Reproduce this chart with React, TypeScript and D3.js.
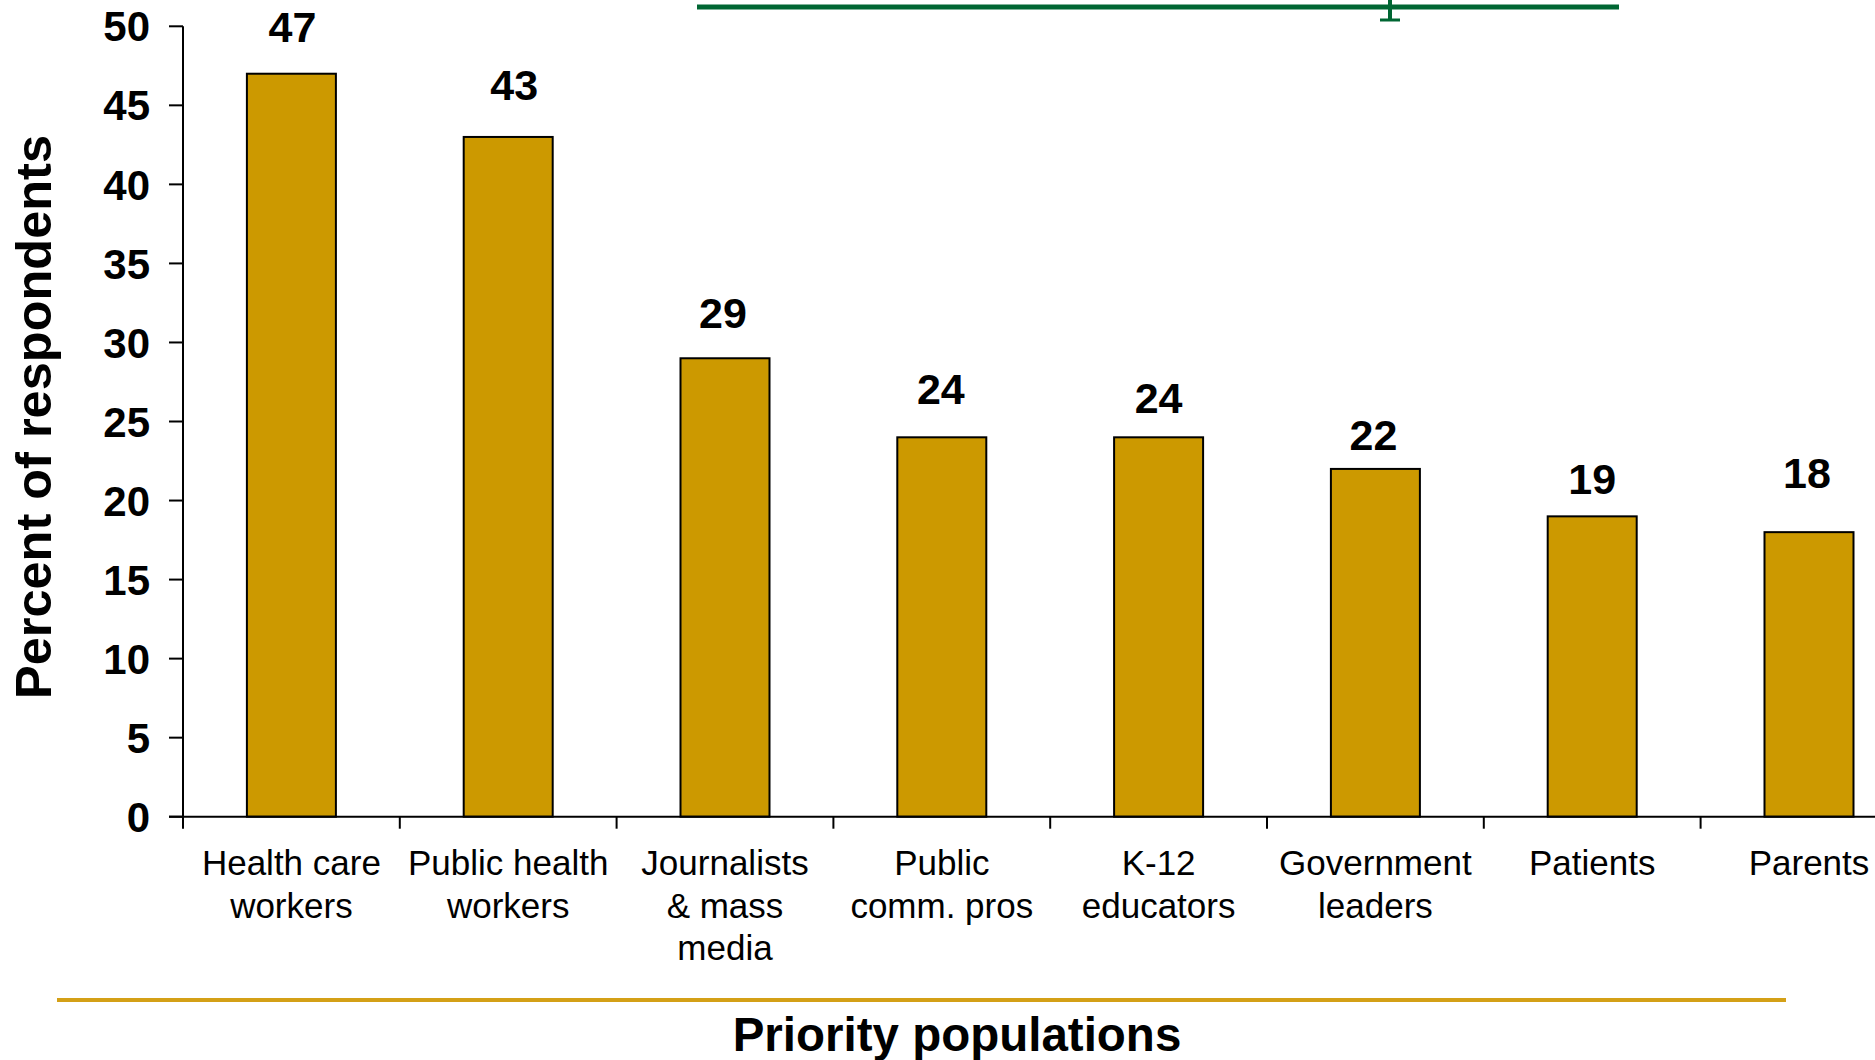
import React from "react";
import * as d3 from "d3";

const categories: string[][] = [
  ["Health care", "workers"],
  ["Public health", "workers"],
  ["Journalists", "& mass", "media"],
  ["Public", "comm. pros"],
  ["K-12", "educators"],
  ["Government", "leaders"],
  ["Patients"],
  ["Parents"],
];
const values: number[] = [47, 43, 29, 24, 24, 22, 19, 18];
// value-label anchor heights (in data units), as placed in the original slide
const labelAnchors: number[] = [50.0, 46.3, 31.9, 27.1, 26.5, 24.2, 21.4, 21.8];
const yTicks: number[] = [0, 5, 10, 15, 20, 25, 30, 35, 40, 45, 50];
const yTitle = "Percent of respondents";
const xTitle = "Priority populations";

const W = 1875;
const H = 1060;
const FONT = "'Liberation Sans', Arial, Helvetica, sans-serif";

export default function App() {
  const x0 = 183;
  const band = 216.8;
  const x = d3
    .scaleBand<number>()
    .domain(d3.range(values.length))
    .range([x0, x0 + band * values.length])
    .paddingInner(0)
    .paddingOuter(0);
  const y = d3.scaleLinear().domain([0, 50]).range([816.7, 26.3]);
  const barW = 89;
  const labelDx = [1, 6, -2, -1, 0, -2, 0, -2];

  return (
    <svg
      width={W}
      height={H}
      style={{ position: "absolute", left: 0, top: 0, background: "#fff" }}
      fontFamily={FONT}
    >
      <rect x={0} y={0} width={W} height={H} fill="#ffffff" />
      {/* top green rule with stem */}
      <line x1={697} x2={1619} y1={7} y2={7} stroke="#006633" strokeWidth={5} />
      <line x1={1390} x2={1390} y1={0} y2={20} stroke="#006633" strokeWidth={4} />
      <line x1={1380} x2={1400} y1={20} y2={20} stroke="#006633" strokeWidth={3} />

      {/* bars */}
      {values.map((v, i) => {
        const cx = (x(i) as number) + x.bandwidth() / 2;
        return (
          <rect
            key={"b" + i}
            x={cx - barW / 2}
            y={y(v)}
            width={barW}
            height={y(0) - y(v)}
            fill="#CC9900"
            stroke="#000"
            strokeWidth={2}
          />
        );
      })}

      {/* value labels */}
      {values.map((v, i) => {
        const cx = (x(i) as number) + x.bandwidth() / 2;
        return (
          <text
            key={"v" + i}
            x={cx + labelDx[i]}
            y={y(labelAnchors[i])}
            dy="0.36em"
            textAnchor="middle"
            fontWeight="bold"
            fontSize={43}
            fill="#000"
          >
            {v}
          </text>
        );
      })}

      {/* y axis */}
      <line x1={x0} x2={x0} y1={y(50)} y2={y(0)} stroke="#000" strokeWidth={2} />
      {yTicks.map((t) => (
        <g key={"yt" + t}>
          <line x1={x0 - 14} x2={x0} y1={y(t)} y2={y(t)} stroke="#000" strokeWidth={2} />
          <text
            x={150}
            y={y(t)}
            dy="0.36em"
            textAnchor="end"
            fontWeight="bold"
            fontSize={42}
            fill="#000"
          >
            {t}
          </text>
        </g>
      ))}

      {/* x axis */}
      <line x1={x0 - 14} x2={W} y1={y(0)} y2={y(0)} stroke="#000" strokeWidth={2} />
      {d3.range(values.length + 1).map((i) => {
        const tx = x0 + i * x.step();
        return (
          <line
            key={"xt" + i}
            x1={tx}
            x2={tx}
            y1={y(0)}
            y2={y(0) + 12}
            stroke="#000"
            strokeWidth={2}
          />
        );
      })}
      {categories.map((lines, i) => {
        const cx = (x(i) as number) + x.bandwidth() / 2;
        return (
          <text
            key={"c" + i}
            x={cx}
            y={875}
            textAnchor="middle"
            fontSize={35}
            fill="#000"
          >
            {lines.map((l, j) => (
              <tspan key={j} x={cx} dy={j === 0 ? 0 : 42.5}>
                {l}
              </tspan>
            ))}
          </text>
        );
      })}

      {/* gold separator */}
      <line x1={57} x2={1786} y1={1000} y2={1000} stroke="#D4A017" strokeWidth={4} />

      {/* axis titles */}
      <text
        transform={`translate(51,417) rotate(-90)`}
        textAnchor="middle"
        fontWeight="bold"
        fontSize={50.5}
        fill="#000"
      >
        {yTitle}
      </text>
      <text
        x={957}
        y={1051}
        textAnchor="middle"
        fontWeight="bold"
        fontSize={47.5}
        fill="#000"
      >
        {xTitle}
      </text>
    </svg>
  );
}
